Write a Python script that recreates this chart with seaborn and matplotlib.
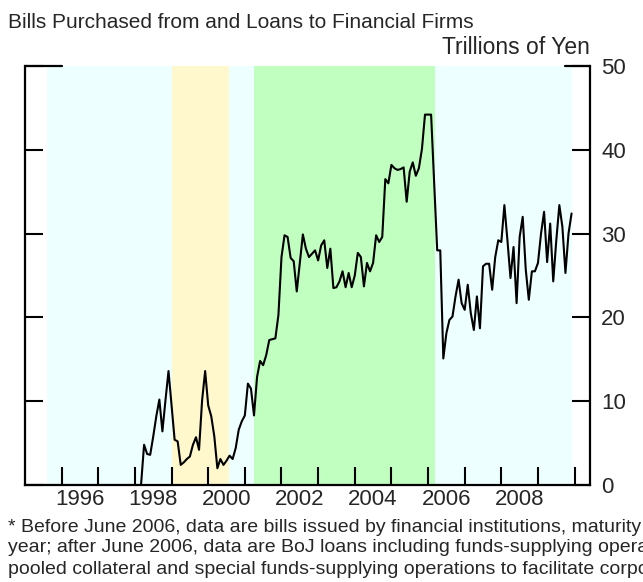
import numpy as np
import pandas as pd
import matplotlib
matplotlib.use("Agg")
import matplotlib.pyplot as plt
import seaborn as sns
from matplotlib.ticker import FixedLocator, FixedFormatter, NullFormatter

# ---------------- data ----------------
start_year = 1995
values = [
    # 1995
    0, 0, 0, 0, 0, 0, 0, 0, 0, 0, 0, 0,
    # 1996
    0, 0, 0, 0, 0, 0, 0, 0, 0, 0, 0, 0,
    # 1997
    0, 0, 0, 0, 0, 0, 0, 0, 0, 0, 0, 0,
    # 1998
    0, 0, 0, 4.8, 3.7, 3.6, 5.8, 8.2, 10.2, 6.4, 10.1, 13.6,
    # 1999
    9.5, 5.4, 5.2, 2.4, 2.7, 3.1, 3.4, 4.8, 5.7, 4.2, 10.1, 13.6,
    # 2000
    9.5, 8.2, 5.8, 2.0, 3.1, 2.4, 2.9, 3.5, 3.1, 4.4, 6.6, 7.6,
    # 2001
    8.3, 12.1, 11.5, 8.3, 12.9, 14.8, 14.3, 15.5, 17.3, 17.4, 17.5, 20.3,
    # 2002
    27.2, 29.8, 29.6, 27.1, 26.7, 23.1, 26.5, 29.9, 28.2, 27.2, 27.6, 28.0,
    # 2003
    26.8, 28.6, 29.2, 25.9, 28.2, 23.5, 23.6, 24.3, 25.5, 23.6, 25.3, 23.6,
    # 2004
    25.0, 27.7, 27.2, 23.7, 26.5, 25.5, 26.5, 29.8, 29.0, 29.6, 36.5, 36.0,
    # 2005
    38.2, 37.8, 37.6, 37.7, 37.9, 33.8, 37.4, 38.5, 36.9, 37.8, 40.1, 44.2,
    # 2006
    44.2, 44.2, 36.0, 28.0, 28.0, 15.1, 18.1, 19.7, 20.1, 22.5, 24.5, 21.7,
    # 2007
    20.9, 23.9, 20.5, 18.5, 22.5, 18.7, 26.1, 26.4, 26.4, 23.3, 27.2, 29.2,
    # 2008
    29.0, 33.4, 29.2, 24.7, 28.4, 21.7, 29.6, 32.0, 25.7, 22.1, 25.5, 25.5,
    # 2009
    26.5, 30.0, 32.6, 26.6, 31.2, 24.3, 29.2, 33.4, 30.8, 25.3, 30.0, 32.4,
]

# policy-regime shading (fractional years)
span_start = [1995.59, 1999.00, 2000.56, 2001.25, 2006.20]
span_end = [1999.00, 2000.56, 2001.25, 2006.20, 2009.92]
span_color = ["#eeffff", "#fff8cc", "#eeffff", "#c0ffc0", "#eeffff"]

year_ticks = list(range(1996, 2011))
year_labels = ["1996", "1998", "2000", "2002", "2004", "2006", "2008"]
y_ticks = [0, 10, 20, 30, 40, 50]

title = "Bills Purchased from and Loans to Financial Firms"
unit = "Trillions of Yen"
footnote = [
    "* Before June 2006, data are bills issued by financial institutions, maturity less than one",
    "year; after June 2006, data are BoJ loans including funds-supplying operations against",
    "pooled collateral and special funds-supplying operations to facilitate corporate financing.",
]

# ---------------- figure ----------------
sns.set_style("ticks")
plt.rcParams["font.family"] = ["Liberation Sans", "DejaVu Sans"]

fig = plt.figure(figsize=(6.43, 5.82), dpi=100)
ax = fig.add_axes([25 / 643, 1 - 485 / 582, 565 / 643, 419 / 582])

for s, e, c in zip(span_start, span_end, span_color):
    ax.axvspan(s, e, color=c, lw=0, zorder=0)

df = pd.DataFrame({
    "year": start_year + np.arange(len(values)) / 12.0,
    "value": values,
})
sns.lineplot(data=df, x="year", y="value", color="black", lw=1.5, ax=ax, zorder=3)

ax.set_xlim(1995.0, 2010.42)
ax.set_ylim(0, 50)
ax.set_xlabel("")
ax.set_ylabel("")

for side in ["left", "bottom", "right"]:
    ax.spines[side].set_linewidth(1.6)
    ax.spines[side].set_color("black")
ax.spines["top"].set_visible(False)
# short top corner segments
ax.axhline(50, xmin=0.0, xmax=0.065, color="black", lw=1.6, clip_on=False, zorder=4)
ax.axhline(50, xmin=0.955, xmax=1.0, color="black", lw=1.6, clip_on=False, zorder=4)

ax.xaxis.set_major_locator(FixedLocator(year_ticks))
ax.xaxis.set_major_formatter(NullFormatter())
ax.xaxis.set_minor_locator(FixedLocator([int(y) + 0.5 for y in year_labels]))
ax.xaxis.set_minor_formatter(FixedFormatter(year_labels))
ax.tick_params(axis="x", which="major", direction="in", length=13, width=1.5,
               color="black", top=False)
ax.tick_params(axis="x", which="minor", length=0, pad=3, labelsize=16)

ax.yaxis.set_major_locator(FixedLocator(y_ticks))
ax.tick_params(axis="y", which="major", direction="in", length=13, width=1.5,
               left=True, right=True, labelleft=False, labelright=True,
               pad=8, labelsize=16, color="black")
ax.tick_params(axis="y", which="minor", left=False, right=False)

fig.text(8 / 643, 1 - 22 / 582, title, ha="left", va="center", fontsize=15)
fig.text(590 / 643, 1 - 48 / 582, unit, ha="right", va="center", fontsize=16.5)
for i, line in enumerate(footnote):
    fig.text(8 / 643, 1 - (527 + 21 * i) / 582, line, ha="left", va="center", fontsize=14.0)

fig.savefig("out.png", dpi=100)
